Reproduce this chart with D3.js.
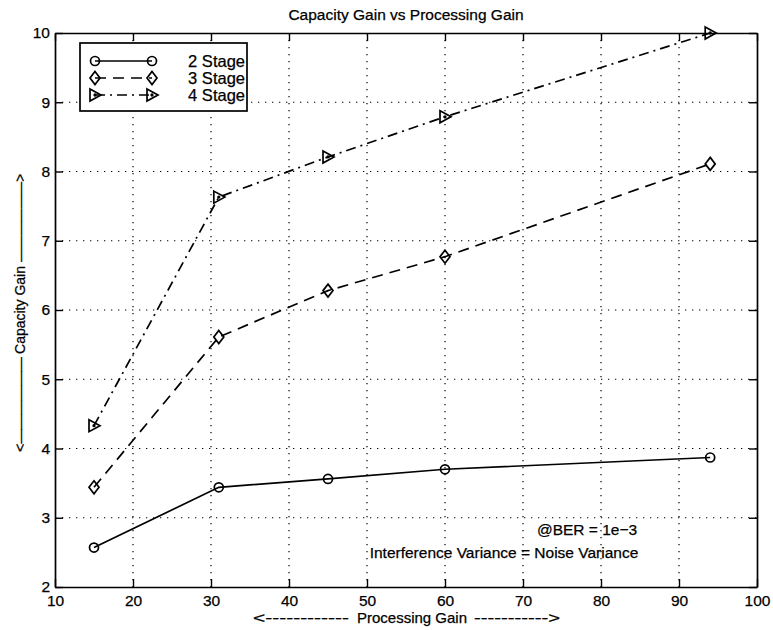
<!DOCTYPE html>
<html>
<head>
<meta charset="utf-8">
<script src="https://cdn.jsdelivr.net/npm/d3@7"></script>
<style>
  html, body { margin: 0; padding: 0; background: #fff; }
  svg { display: block; font-family: "Liberation Sans", Arial, Helvetica, sans-serif; }
  text { fill: #000; stroke: #000; stroke-width: 0.25px; }
</style>
</head>
<body>
<svg id="chart" width="773" height="630"></svg>
<script>
// Processing gain values (x) shared by all curves
const processingGain = [15, 31, 45, 60, 94];
// Capacity gain for each receiver depth
const stage2 = [2.57, 3.44, 3.56, 3.70, 3.87];
const stage3 = [3.44, 5.61, 6.28, 6.77, 8.11];
const stage4 = [4.33, 7.63, 8.21, 8.79, 10.0];
const seriesNames = ["2 Stage", "3 Stage", "4 Stage"];
const xTicks = [10, 20, 30, 40, 50, 60, 70, 80, 90, 100];
const yTicks = [2, 3, 4, 5, 6, 7, 8, 9, 10];

const series = [
  { name: seriesNames[0], values: stage2, dash: null, marker: "circle" },
  { name: seriesNames[1], values: stage3, dash: "11,7", marker: "diamond" },
  { name: seriesNames[2], values: stage4, dash: "10,5,2,5", marker: "triangle" }
];

const svg = d3.select("#chart");
const plotL = 55, plotR = 757, plotT = 33, plotB = 587;
const midX = (plotL + plotR) / 2, midY = (plotT + plotB) / 2;

const x = d3.scaleLinear().domain([10, 100]).range([plotL, plotR]);
const y = d3.scaleLinear().domain([2, 10]).range([plotB, plotT]);

// dotted grid
const grid = svg.append("g").attr("stroke", "#000").attr("stroke-width", 1.2)
  .attr("stroke-dasharray", "1.3,5.7");
grid.selectAll("line.gx").data(xTicks.slice(1, -1)).join("line")
  .attr("x1", d => x(d)).attr("x2", d => x(d)).attr("y1", plotT).attr("y2", plotB);
grid.selectAll("line.gy").data(yTicks.slice(1, -1)).join("line")
  .attr("y1", d => y(d)).attr("y2", d => y(d)).attr("x1", plotL).attr("x2", plotR);

// axes with inward ticks on all four sides
const tickLen = 8;
const axB = d3.axisBottom(x).tickValues(xTicks).tickSizeInner(-tickLen).tickSizeOuter(0).tickPadding(8);
const axL = d3.axisLeft(y).tickValues(yTicks).tickSizeInner(-tickLen).tickSizeOuter(0).tickPadding(5);
const axT = d3.axisTop(x).tickValues(xTicks).tickSizeInner(-tickLen).tickSizeOuter(0).tickFormat("");
const axR = d3.axisRight(y).tickValues(yTicks).tickSizeInner(-tickLen).tickSizeOuter(0).tickFormat("");

function styleAxis(g) {
  g.select(".domain").attr("stroke", "#000").attr("stroke-width", 1.7);
  g.selectAll(".tick line").attr("stroke", "#000").attr("stroke-width", 1.4);
  g.selectAll(".tick text").attr("fill", "#000").attr("font-size", 15.5)
    .attr("font-family", "'Liberation Sans', Arial, sans-serif");
}
svg.append("g").attr("transform", `translate(0,${plotB})`).call(axB).call(styleAxis);
svg.append("g").attr("transform", `translate(${plotL},0)`).call(axL).call(styleAxis);
svg.append("g").attr("transform", `translate(0,${plotT})`).call(axT).call(styleAxis);
svg.append("g").attr("transform", `translate(${plotR},0)`).call(axR).call(styleAxis);

// marker shapes
function drawMarker(g, kind, cx, cy) {
  if (kind === "circle") {
    g.append("circle").attr("cx", cx).attr("cy", cy).attr("r", 4.5);
  } else if (kind === "diamond") {
    g.append("path").attr("d", `M${cx},${cy - 6.5}L${cx + 5},${cy}L${cx},${cy + 6.5}L${cx - 5},${cy}Z`);
  } else {
    g.append("path").attr("d", `M${cx - 5},${cy - 6}L${cx + 6},${cy}L${cx - 5},${cy + 6}Z`);
    g.append("circle").attr("cx", cx).attr("cy", cy).attr("r", 0.8).attr("fill", "#000");
  }
}

const line = d3.line().x((d, i) => x(processingGain[i])).y(d => y(d));
series.forEach(s => {
  svg.append("path").datum(s.values)
    .attr("d", line).attr("fill", "none").attr("stroke", "#000").attr("stroke-width", 1.7)
    .attr("stroke-dasharray", s.dash);
  const mg = svg.append("g").attr("fill", "none").attr("stroke", "#000").attr("stroke-width", 1.7);
  s.values.forEach((v, i) => drawMarker(mg, s.marker, x(processingGain[i]), y(v)));
});

// legend
const legend = svg.append("g");
legend.append("rect").attr("x", 80).attr("y", 43).attr("width", 167).attr("height", 68)
  .attr("fill", "#fff").attr("stroke", "#000").attr("stroke-width", 1.7);
series.forEach((s, i) => {
  const ly = 61 + i * 17;
  legend.append("line").attr("x1", 95).attr("x2", 152).attr("y1", ly).attr("y2", ly)
    .attr("stroke", "#000").attr("stroke-width", 1.5).attr("stroke-dasharray", s.dash);
  const mg = legend.append("g").attr("fill", "none").attr("stroke", "#000").attr("stroke-width", 1.7);
  drawMarker(mg, s.marker, 95, ly);
  drawMarker(mg, s.marker, 152, ly);
  legend.append("text").attr("x", 245).attr("y", ly + 5.5).attr("text-anchor", "end")
    .attr("font-size", 16.5).text(s.name);
});

// title
svg.append("text").attr("x", midX).attr("y", 20).attr("text-anchor", "middle")
  .attr("font-size", 15.5).text("Capacity Gain vs Processing Gain");

// x label: arrow made of dashes on both sides of the caption
const xl = svg.append("g").attr("font-size", 15);
xl.append("text").attr("x", midX + 6).attr("y", 623).attr("text-anchor", "middle").text("Processing Gain");
xl.append("text").attr("x", midX - 153).attr("y", 623).attr("textLength", 96)
  .attr("lengthAdjust", "spacingAndGlyphs").text("<------------");
xl.append("text").attr("x", midX + 68).attr("y", 623).attr("textLength", 86)
  .attr("lengthAdjust", "spacingAndGlyphs").text("----------->");

// y label: caption between two long arrow shafts
const yl = svg.append("g").attr("font-size", 14)
  .attr("transform", `translate(25,${midY}) rotate(-90)`);
yl.append("text").attr("x", 0).attr("y", 0).attr("text-anchor", "middle").text("Capacity Gain");
yl.append("text").attr("x", -142).attr("y", 0).attr("textLength", 95)
  .attr("lengthAdjust", "spacingAndGlyphs").text("<\u2014\u2014\u2014\u2014\u2014\u2014");
yl.append("text").attr("x", 48).attr("y", 0).attr("textLength", 88)
  .attr("lengthAdjust", "spacingAndGlyphs").text("\u2014\u2014\u2014\u2014\u2014\u2014>");

// annotations
svg.append("text").attr("x", 587).attr("y", 535).attr("text-anchor", "middle")
  .attr("font-size", 15.5).text("@BER = 1e\u22123");
svg.append("text").attr("x", 504).attr("y", 558).attr("text-anchor", "middle")
  .attr("font-size", 15.5).text("Interference Variance = Noise Variance");
</script>
</body>
</html>
